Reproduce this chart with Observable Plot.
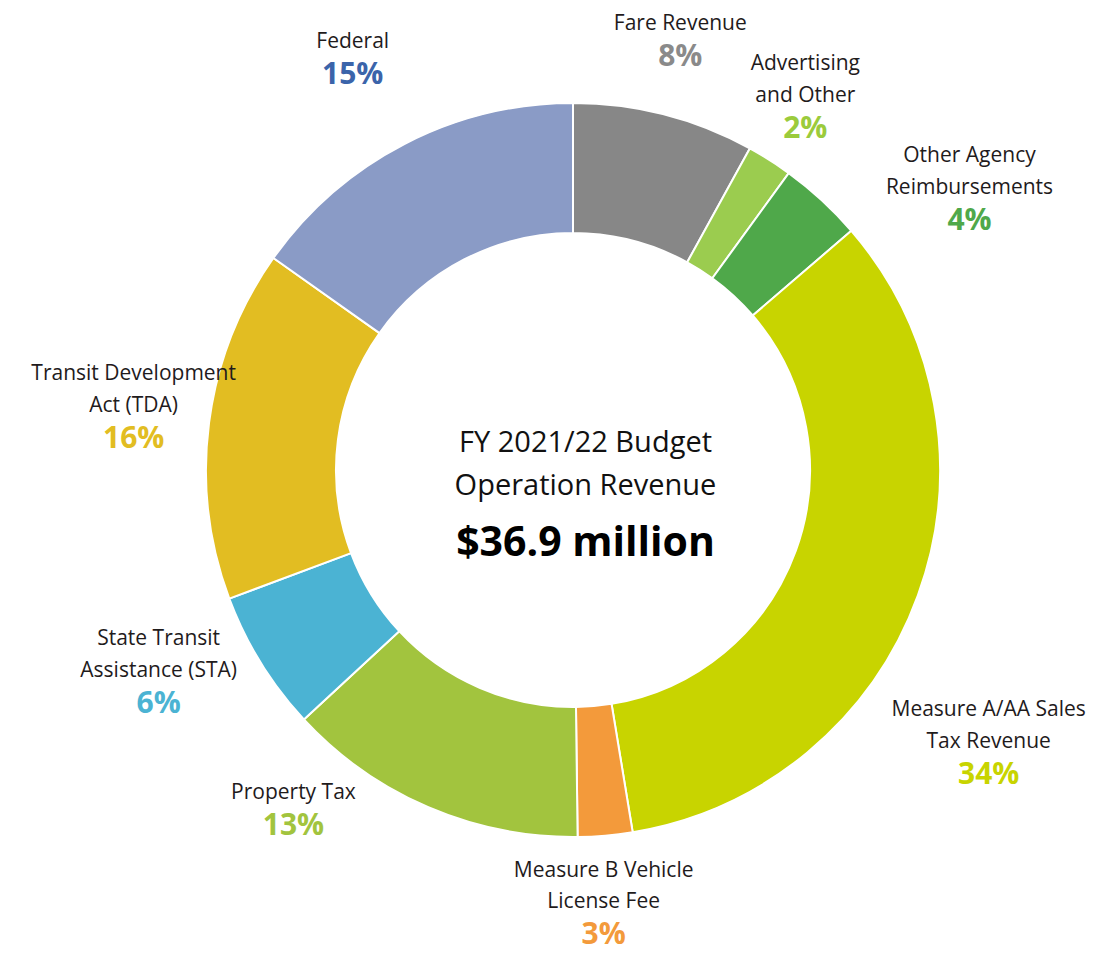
<!DOCTYPE html>
<html>
<head>
<meta charset="utf-8">
<script src="https://cdn.jsdelivr.net/npm/d3@7"></script>
<script src="https://cdn.jsdelivr.net/npm/@observablehq/plot@0.6"></script>
<style>
  html, body { margin: 0; padding: 0; background: #ffffff; }
  #chart svg { display: block; }
</style>
</head>
<body>
<div id="chart"></div>
<script>
// ---------- data ----------
const categories = [
  "Fare Revenue",
  "Advertising and Other",
  "Other Agency Reimbursements",
  "Measure A/AA Sales Tax Revenue",
  "Measure B Vehicle License Fee",
  "Property Tax",
  "State Transit Assistance (STA)",
  "Transit Development Act (TDA)",
  "Federal"
];
const labelText = [
  "Fare Revenue",
  "Advertising\nand Other",
  "Other Agency\nReimbursements",
  "Measure A/AA Sales\nTax Revenue",
  "Measure B Vehicle\nLicense Fee",
  "Property Tax",
  "State Transit\nAssistance (STA)",
  "Transit Development\nAct (TDA)",
  "Federal"
];
const shares = [8.0, 2.0, 3.7, 33.7, 2.4, 13.3, 6.2, 15.5, 15.2];
const percentLabels = ["8%", "2%", "4%", "34%", "3%", "13%", "6%", "16%", "15%"];
const centerTitle = ["FY 2021/22 Budget", "Operation Revenue"];
const centerTotal = "$36.9 million";

// ---------- styles / layout ----------
const sliceColors = ["#878787", "#9bcc4f", "#4fa84a", "#c8d400", "#f39a3b", "#a2c43e", "#4bb3d3", "#e2bd22", "#8a9bc6"];
const percentColors = ["#8a8a8a", "#9bcb3c", "#4fa84a", "#c8d400", "#f39a3b", "#a2c43e", "#4bb3d3", "#e2bd22", "#3b64aa"];
// label placement: [angle nudge from slice mid-angle (deg), distance in outer radii]
const labelPlacement = [
  [0.4, 1.139], [2.5, 1.104], [16.1, 1.262], [17.1, 1.418], [1.4, 1.294],
  [14.3, 1.253], [1.4, 1.309], [-4.5, 1.200], [-2.4, 1.212]
];
const W = 1094, H = 956, CX = 573, CY = 470, R = 367, INNER = 237 / 367;
const FONT = "'Open Sans', 'Noto Sans', sans-serif";

// ---------- build ----------
const rows = categories.map((name, i) => ({name, share: shares[i], label: labelText[i], pct: percentLabels[i]}));
const arcs = d3.pie().sort(null).value(d => d.share).startAngle(0).endAngle(2 * Math.PI)(rows);

const labelRows = arcs.map((a, i) => {
  const mid = (a.startAngle + a.endAngle) / 2 + labelPlacement[i][0] * Math.PI / 180;
  const r = labelPlacement[i][1];
  return {x: r * Math.sin(mid), y: r * Math.cos(mid), label: a.data.label, pct: a.data.pct, color: percentColors[i]};
});

const slicesMark = Plot.dot(arcs, {
  x: () => 0,
  y: () => 0,
  fill: d => d.data.name,
  render(index, scales, values, dimensions, context) {
    const k = scales.x(1) - scales.x(0);
    const arc = d3.arc().innerRadius(INNER * k).outerRadius(k);
    const g = d3.select(context.document.createElementNS("http://www.w3.org/2000/svg", "g"));
    for (const i of index) {
      g.append("path")
        .attr("transform", `translate(${values.x[i]},${values.y[i]})`)
        .attr("d", arc(arcs[i]))
        .attr("fill", values.fill[i])
        .attr("stroke", "#ffffff")
        .attr("stroke-width", 2)
        .attr("stroke-linejoin", "round");
    }
    return g.node();
  }
});

const nameMarks = labelRows.map(d => Plot.text([d], {
  x: "x", y: "y", text: "label",
  lineAnchor: "bottom", dy: -36, lineHeight: 1.52,
  fontSize: 21, fontFamily: FONT, fill: "#1f1b1c"
}));
const pctMarks = labelRows.map(d => Plot.text([d], {
  x: "x", y: "y", text: "pct",
  lineAnchor: "bottom",
  fontSize: 30, fontWeight: "bold", fontFamily: FONT, fill: d.color
}));

const chart = Plot.plot({
  width: W,
  height: H,
  margin: 0,
  style: {fontFamily: FONT, background: "#ffffff"},
  x: {domain: [-CX / R, (W - CX) / R], range: [0, W], axis: null},
  y: {domain: [-(H - CY) / R, CY / R], range: [H, 0], axis: null},
  color: {domain: categories, range: sliceColors},
  marks: [
    slicesMark,
    ...nameMarks,
    ...pctMarks,
    Plot.text([centerTitle.join("\n")], {
      x: () => 0, y: () => 0, text: d => d,
      lineAnchor: "bottom", dx: 12, dy: 24, lineHeight: 1.45,
      fontSize: 29, fontFamily: FONT, fill: "#111111"
    }),
    Plot.text([centerTotal], {
      x: () => 0, y: () => 0, text: d => d,
      lineAnchor: "bottom", dx: 12, dy: 85,
      fontSize: 41, fontWeight: "bold", fontFamily: FONT, fill: "#000000"
    })
  ]
});
document.getElementById("chart").appendChild(chart);
</script>
</body>
</html>
